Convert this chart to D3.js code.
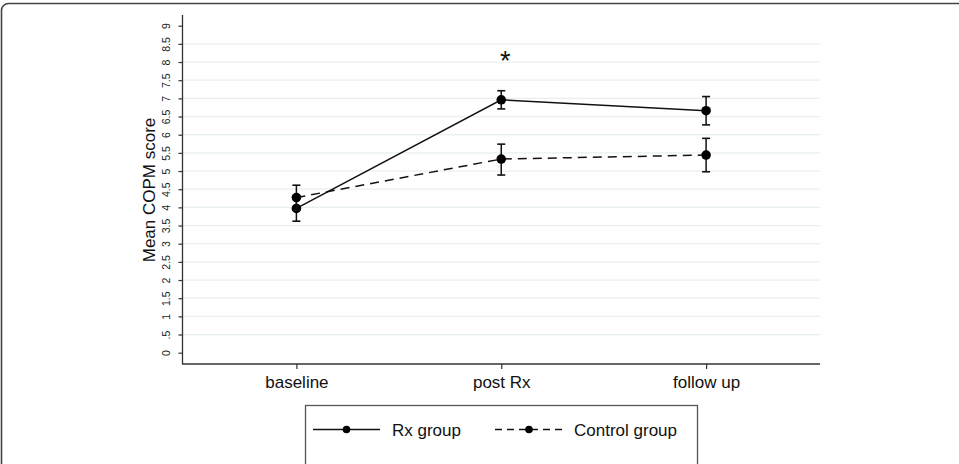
<!DOCTYPE html>
<html>
<head>
<meta charset="utf-8">
<script src="https://cdn.jsdelivr.net/npm/d3@7"></script>
<style>
  body { margin: 0; background: #fff; }
  svg { display: block; font-family: "Liberation Sans", Arial, Helvetica, sans-serif; }
</style>
</head>
<body>
<div id="chart"></div>
<script>
// timepoints and group means with 95% CI
const timepoints = ["baseline", "post Rx", "follow up"];
const rxMean = [3.97, 6.96, 6.66];
const rxLow = [3.62, 6.71, 6.27];
const rxHigh = [4.32, 7.21, 7.05];
const ctrlMean = [4.27, 5.33, 5.44];
const ctrlLow = [3.92, 4.89, 4.98];
const ctrlHigh = [4.61, 5.74, 5.90];
const yTicks = [0, 0.5, 1, 1.5, 2, 2.5, 3, 3.5, 4, 4.5, 5, 5.5, 6, 6.5, 7, 7.5, 8, 8.5, 9];
const yTickLabels = ["0", ".5", "1", "1.5", "2", "2.5", "3", "3.5", "4", "4.5", "5", "5.5", "6", "6.5", "7", "7.5", "8", "8.5", "9"];
const gridValues = [0.5, 1, 1.5, 2, 2.5, 3, 3.5, 4, 4.5, 5, 5.5, 6, 6.5, 7, 7.5, 8, 8.5];
const signif = [{ time: "post Rx", y: 8.13, label: "*" }];

const series = [
  { name: "Rx group", mean: rxMean, low: rxLow, high: rxHigh, dash: null },
  { name: "Control group", mean: ctrlMean, low: ctrlLow, high: ctrlHigh, dash: "9,6" }
];

const W = 959, H = 464;
const svg = d3.select("#chart").append("svg")
  .attr("width", W)
  .attr("height", H);

// outer frame (rounded, runs off the right and bottom)
svg.append("rect")
  .attr("x", 1.5).attr("y", 3.5)
  .attr("width", 980).attr("height", 500)
  .attr("rx", 7)
  .attr("fill", "none")
  .attr("stroke", "#444")
  .attr("stroke-width", 1.6);

const x = d3.scalePoint()
  .domain(timepoints)
  .range([182.5, 820])
  .padding(0.556);

const y = d3.scaleLinear()
  .domain([0, 9])
  .range([352.7, 25.7]);

// gridlines
svg.append("g")
  .selectAll("line")
  .data(gridValues)
  .join("line")
  .attr("x1", 183).attr("x2", 820)
  .attr("y1", d => y(d)).attr("y2", d => y(d))
  .attr("stroke", "#e8efef")
  .attr("stroke-width", 1.2);

// y axis
const yAxis = svg.append("g")
  .attr("transform", "translate(182.5,0)")
  .call(d3.axisLeft(y).tickValues(yTicks).tickSize(4).tickPadding(6)
    .tickFormat((d, i) => yTickLabels[i]));
yAxis.select(".domain").attr("d", "M0,15V364").attr("stroke", "#333").attr("stroke-width", 1.3);
yAxis.selectAll(".tick line").attr("stroke", "#333").attr("stroke-width", 1.2);
yAxis.selectAll(".tick text")
  .attr("x", 0).attr("dy", 0)
  .attr("transform", "translate(-13,0) rotate(-90)")
  .attr("text-anchor", "middle")
  .style("font-size", "10.5px")
  .attr("fill", "#222");

// x axis
const xAxis = svg.append("g")
  .attr("transform", "translate(0,364)")
  .call(d3.axisBottom(x).tickSize(5).tickPadding(7));
xAxis.select(".domain").attr("d", "M182,0H820").attr("stroke", "#333").attr("stroke-width", 1.3);
xAxis.selectAll(".tick line").attr("stroke", "#333").attr("stroke-width", 1.2);
xAxis.selectAll(".tick text")
  .style("font-size", "17px")
  .attr("fill", "#111");

// y axis title
svg.append("text")
  .attr("transform", "translate(155,190) rotate(-90)")
  .attr("text-anchor", "middle")
  .style("font-size", "17px")
  .attr("fill", "#111")
  .text("Mean COPM score");

// error bars, lines, markers
series.forEach(s => {
  const g = svg.append("g");
  const pts = timepoints.map((t, i) => ({ t, m: s.mean[i], lo: s.low[i], hi: s.high[i] }));

  g.selectAll("line.eb")
    .data(pts)
    .join("line")
    .attr("class", "eb")
    .attr("x1", d => x(d.t)).attr("x2", d => x(d.t))
    .attr("y1", d => y(d.lo)).attr("y2", d => y(d.hi))
    .attr("stroke", "#111").attr("stroke-width", 1.5);

  g.selectAll("line.cap")
    .data(pts.flatMap(d => [{ t: d.t, v: d.lo }, { t: d.t, v: d.hi }]))
    .join("line")
    .attr("class", "cap")
    .attr("x1", d => x(d.t) - 4).attr("x2", d => x(d.t) + 4)
    .attr("y1", d => y(d.v)).attr("y2", d => y(d.v))
    .attr("stroke", "#111").attr("stroke-width", 1.6);

  g.append("path")
    .datum(pts)
    .attr("d", d3.line().x(d => x(d.t)).y(d => y(d.m)))
    .attr("fill", "none")
    .attr("stroke", "#111")
    .attr("stroke-width", 1.5)
    .attr("stroke-dasharray", s.dash);

  g.selectAll("circle")
    .data(pts)
    .join("circle")
    .attr("cx", d => x(d.t)).attr("cy", d => y(d.m))
    .attr("r", 4.8)
    .attr("fill", "#000");
});

// significance marker
svg.selectAll("text.sig")
  .data(signif)
  .join("text")
  .attr("class", "sig")
  .attr("x", d => x(d.time) + 4)
  .attr("y", d => y(d.y) + 13)
  .attr("text-anchor", "middle")
  .style("font-size", "27px")
  .attr("fill", "#111")
  .text(d => d.label);

// legend
const legend = svg.append("g");
legend.append("rect")
  .attr("x", 305.5).attr("y", 405.5)
  .attr("width", 392).attr("height", 80)
  .attr("fill", "none")
  .attr("stroke", "#555")
  .attr("stroke-width", 1.3);

const legendItems = [
  { s: series[0], x0: 313, x1: 380, tx: 392, dash: null },
  { s: series[1], x0: 495, x1: 563, tx: 574, dash: "7,5" }
];
legendItems.forEach(d => {
  legend.append("line")
    .attr("x1", d.x0).attr("x2", d.x1)
    .attr("y1", 429.5).attr("y2", 429.5)
    .attr("stroke", "#111").attr("stroke-width", 1.4)
    .attr("stroke-dasharray", d.dash);
  legend.append("circle")
    .attr("cx", (d.x0 + d.x1) / 2).attr("cy", 429.5)
    .attr("r", 3.8).attr("fill", "#000");
  legend.append("text")
    .attr("x", d.tx).attr("y", 435.5)
    .style("font-size", "17px")
    .attr("fill", "#111")
    .text(d.s.name);
});
</script>
</body>
</html>
